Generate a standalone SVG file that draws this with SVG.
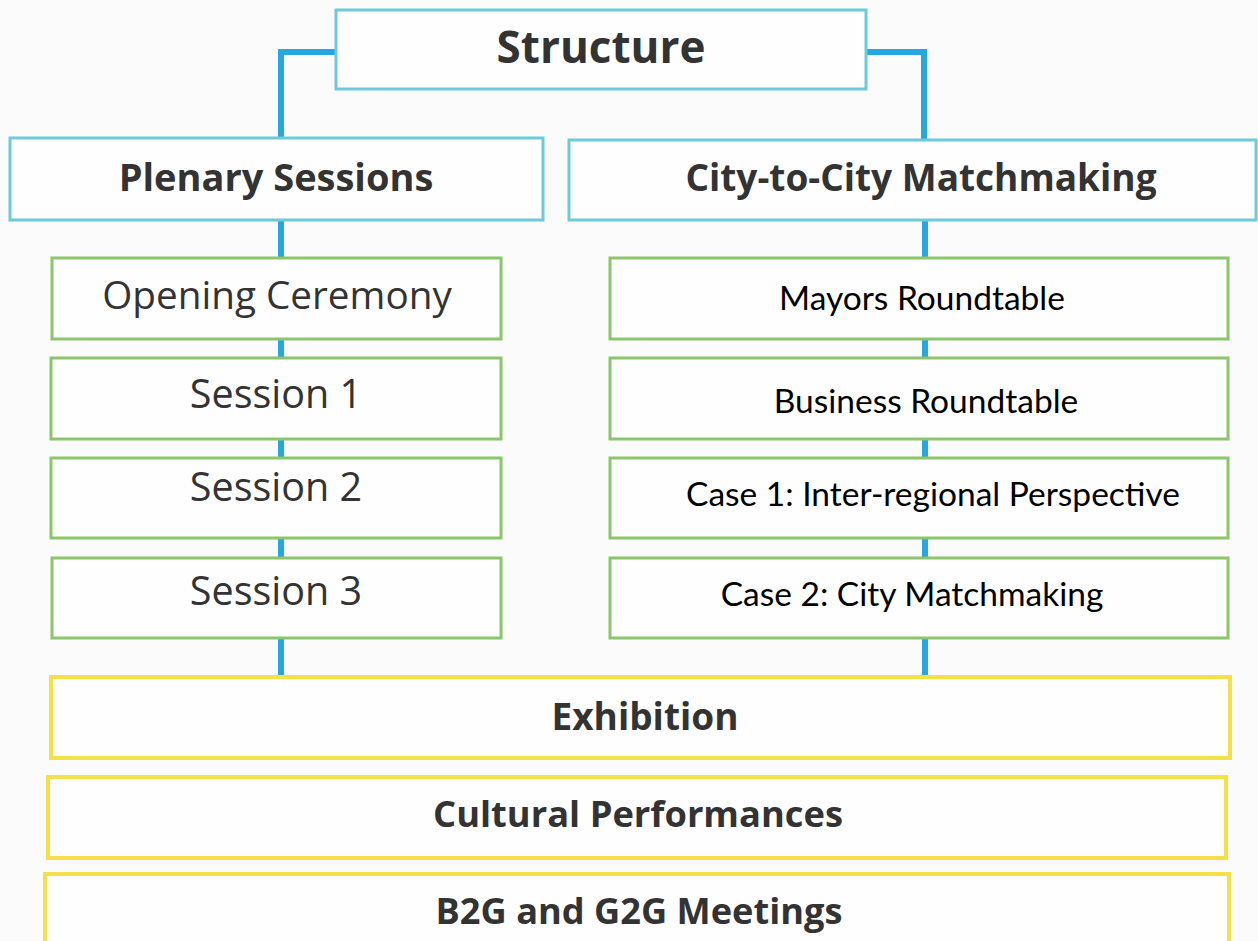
<svg xmlns="http://www.w3.org/2000/svg" width="1258" height="941" viewBox="0 0 1258 941">
<style>
.bg{fill:#fbfbfb}
.cyan{fill:#fefefe;stroke:#6ecad8;stroke-width:3}
.green{fill:#fefefe;stroke:#8cc66c;stroke-width:3}
.yellow{fill:#fefefe;stroke:#f3e147;stroke-width:4}
.conn{fill:none;stroke:#27a7df;stroke-width:6}
.h{font-family:"Open Sans","Liberation Sans",sans-serif;font-weight:700;fill:#333;text-anchor:middle}
.s{font-family:"Open Sans","Liberation Sans",sans-serif;font-weight:400;fill:#333;text-anchor:middle}
.c{font-family:Lato,"Liberation Sans",sans-serif;font-weight:400;fill:#000;text-anchor:middle}
</style>
<rect class="bg" x="0" y="0" width="1258" height="941"/>
<g id="connectors">
<polyline class="conn" points="336,52 281,52 281,138"/>
<polyline class="conn" points="866,52 924,52 924,140"/>
<line class="conn" x1="281" y1="220" x2="281" y2="678"/>
<line class="conn" x1="925" y1="220" x2="925" y2="678"/>
</g>
<g id="structure"><rect class="cyan" x="336" y="10" width="530" height="79"/><text class="h" x="601" y="63" font-size="44">Structure</text></g>
<g id="plenary"><rect class="cyan" x="10" y="138" width="533" height="82"/><text class="h" x="276" y="191" font-size="38">Plenary Sessions</text></g>
<g id="city"><rect class="cyan" x="569" y="140" width="687" height="80"/><text class="h" x="921" y="191" font-size="37">City-to-City Matchmaking</text></g>
<g id="opening"><rect class="green" x="52" y="258" width="449" height="81"/><text class="s" x="277" y="309" font-size="38.7">Opening Ceremony</text></g>
<g id="session1"><rect class="green" x="51" y="358" width="450" height="81"/><text class="s" x="276" y="408" font-size="39.5">Session 1</text></g>
<g id="session2"><rect class="green" x="51" y="458" width="450" height="80"/><text class="s" x="276" y="501" font-size="39.5">Session 2</text></g>
<g id="session3"><rect class="green" x="52" y="558" width="449" height="80"/><text class="s" x="276" y="605" font-size="39.5">Session 3</text></g>
<g id="mayors"><rect class="green" x="610" y="258" width="618" height="81"/><text class="c" x="922" y="310" font-size="33.5">Mayors Roundtable</text></g>
<g id="business"><rect class="green" x="610" y="358" width="618" height="81"/><text class="c" x="926" y="413" font-size="33.5">Business Roundtable</text></g>
<g id="case1"><rect class="green" x="610" y="458" width="618" height="80"/><text class="c" x="933" y="506" font-size="33.5">Case 1: Inter-regional Perspective</text></g>
<g id="case2"><rect class="green" x="610" y="558" width="618" height="80"/><text class="c" x="912" y="606" font-size="33.5">Case 2: City Matchmaking</text></g>
<g id="exhibition"><rect class="yellow" x="51" y="677" width="1179" height="81"/><text class="h" x="645" y="730" font-size="37">Exhibition</text></g>
<g id="cultural"><rect class="yellow" x="48" y="777" width="1178" height="81"/><text class="h" x="638" y="827" font-size="36.3">Cultural Performances</text></g>
<g id="b2g"><rect class="yellow" x="45" y="874" width="1184" height="80"/><text class="h" x="639" y="924" font-size="36.2">B2G and G2G Meetings</text></g>
</svg>
